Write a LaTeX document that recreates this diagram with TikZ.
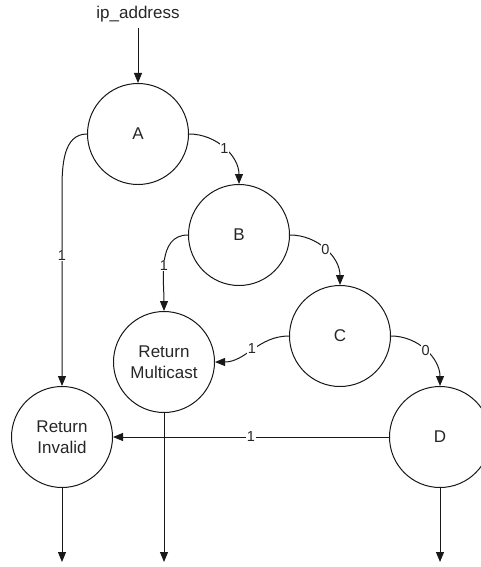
\documentclass[tikz,border=0pt]{standalone}
\usepackage{fontspec}
\setmainfont{Liberation Sans}
\usetikzlibrary{arrows.meta}

\begin{document}
\begin{tikzpicture}[x=1pt, y=1pt,
  state/.style={circle, draw=black!90, line width=1pt, minimum size=101pt,
    inner sep=0pt, align=center, text=black!85, font=\fontsize{17}{21}\selectfont},
  arr/.style={draw=black!90, line width=1pt, -{Triangle[length=10pt,width=8pt]}},
  bit/.style={fill=white, inner sep=0.5pt, text=black!85, font=\fontsize{14.5}{14}\selectfont}]
\useasboundingbox (0,0) rectangle (480,-567);

% decision states
\node[state] (A)  at (138,-134) {A};
\node[state] (B)  at (239,-235) {B};
\node[state] (C)  at (340,-336) {C};
\node[state] (D)  at (440,-437) {D};
\node[state] (RM) at (164,-362) {Return\\Multicast};
\node[state] (RI) at (62,-437)  {Return\\Invalid};

% input and outputs
\node[inner sep=6pt, text=black!85, font=\fontsize{17}{21}\selectfont] (ip) at (138,-14) {ip\_address};
\coordinate (outRI) at (62,-562);
\coordinate (outRM) at (164,-562);
\coordinate (outD)  at (440,-562);

\draw[arr] (ip) -- (A);

\draw[arr] (A.west) to[out=180,in=90] ++(-25,-55) -- node[bit, pos=0.34] {1} (RI.north);
\draw[arr] (A.east) to[out=0,in=90] node[bit, pos=0.5] {1} (B.north);

\draw[arr] (B.west) to[out=180,in=90] node[bit, pos=0.55] {1} (RM.north);
\draw[arr] (B.east) to[out=0,in=90] node[bit, pos=0.5] {0} (C.north);

\draw[arr] (C.west) to[out=180,in=0] node[bit, pos=0.5] {1} (RM.east);
\draw[arr] (C.east) to[out=0,in=90] node[bit, pos=0.5] {0} (D.north);

\draw[arr] (D.west) -- node[bit, pos=0.5] {1} (RI.east);

\draw[arr] (RI.south) -- (outRI);
\draw[arr] (RM.south) -- (outRM);
\draw[arr] (D.south) -- (outD);
\end{tikzpicture}
\end{document}
